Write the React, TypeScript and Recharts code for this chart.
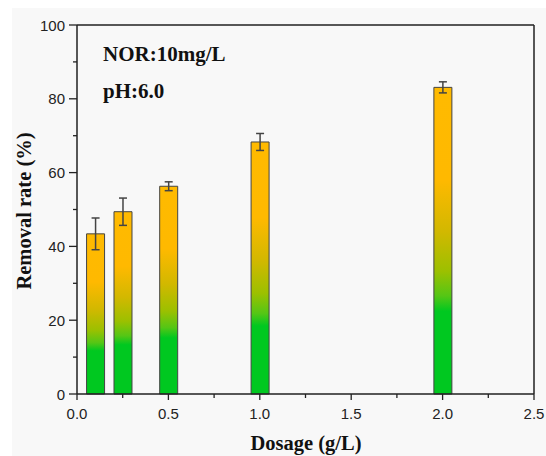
import React from 'react';
import { BarChart, Bar, XAxis, YAxis, ErrorBar, ReferenceLine } from 'recharts';

const dosage = [0.1, 0.25, 0.5, 1.0, 2.0];
const removalRate = [43.4, 49.4, 56.3, 68.3, 83.1];
const errorValues = [4.3, 3.7, 1.2, 2.3, 1.5];
const xTicks = [0, 0.25, 0.5, 0.75, 1.0, 1.25, 1.5, 1.75, 2.0, 2.25, 2.5];
const yTicks = [0, 10, 20, 30, 40, 50, 60, 70, 80, 90, 100];
const xTitle = 'Dosage (g/L)';
const yTitle = 'Removal rate (%)';
const notes = ['NOR:10mg/L', 'pH:6.0'];

const data = dosage.map((d, i) => ({ dosage: d, rate: removalRate[i], err: errorValues[i] }));

const AXIS = '#222';
const TICK_FONT = '"Liberation Sans", Arial, sans-serif';
const TITLE_FONT = '"Liberation Serif", "Times New Roman", serif';

const XTick = (props: any) => {
  const { x, y, payload } = props;
  const v = payload.value as number;
  const major = Math.abs(v * 2 - Math.round(v * 2)) < 1e-6;
  return (
    <g>
      <line x1={x} x2={x} y1={y} y2={y + (major ? 6 : 4)} stroke={AXIS} strokeWidth={1.3} />
      {major && (
        <text x={x} y={y + 25} textAnchor="middle" fontSize={15} fontFamily={TICK_FONT} fill="#222">
          {v.toFixed(1)}
        </text>
      )}
    </g>
  );
};

const YTick = (props: any) => {
  const { x, y, payload } = props;
  const v = payload.value as number;
  const major = v % 20 === 0;
  return (
    <g>
      <line x1={x - (major ? 8 : 4)} x2={x} y1={y} y2={y} stroke={AXIS} strokeWidth={1.3} />
      {major && (
        <text x={x - 12} y={y + 5.5} textAnchor="end" fontSize={15} fontFamily={TICK_FONT} fill="#222">
          {v}
        </text>
      )}
    </g>
  );
};

export default function App() {
  return (
    <div style={{ position: 'absolute', left: 0, top: 0, width: 546, height: 456, background: '#ffffff' }}>
      <div style={{ position: 'absolute', left: 12, top: 8, width: 534, height: 448, background: '#f8f8f8' }} />
      <div style={{ position: 'absolute', left: 0, top: 0 }}>
        <BarChart width={546} height={456} data={data} margin={{ top: 25, right: 12, bottom: 32, left: 17 }}>
          <defs>
            <linearGradient id="barGrad" x1="0" y1="0" x2="0" y2="1">
              <stop offset="0" stopColor="#ffba00" />
              <stop offset="0.3" stopColor="#ffb900" />
              <stop offset="0.47" stopColor="#d2b800" />
              <stop offset="0.6" stopColor="#9cc000" />
              <stop offset="0.68" stopColor="#55c615" />
              <stop offset="0.73" stopColor="#00c820" />
              <stop offset="1" stopColor="#00c820" />
            </linearGradient>
          </defs>
          <XAxis
            type="number"
            dataKey="dosage"
            domain={[0, 2.5]}
            ticks={xTicks}
            interval={0}
            tickSize={0}
            tickMargin={0}
            tickLine={false}
            height={30}
            axisLine={{ stroke: AXIS, strokeWidth: 1.5 }}
            tick={<XTick />}
            allowDataOverflow
          />
          <YAxis
            type="number"
            domain={[0, 100]}
            ticks={yTicks}
            interval={0}
            tickSize={0}
            tickMargin={0}
            tickLine={false}
            width={60}
            axisLine={{ stroke: AXIS, strokeWidth: 1.5 }}
            tick={<YTick />}
          />
          <ReferenceLine y={100} stroke={AXIS} strokeWidth={1.5} />
          <ReferenceLine x={2.5} stroke={AXIS} strokeWidth={1.5} />
          <Bar dataKey="rate" barSize={18} fill="url(#barGrad)" stroke="#444" strokeWidth={1} isAnimationActive={false}>
            <ErrorBar dataKey="err" width={4} stroke="#444" strokeWidth={1.5} isAnimationActive={false} />
          </Bar>
        </BarChart>
      </div>
      <svg width={546} height={456} style={{ position: 'absolute', left: 0, top: 0, pointerEvents: 'none' }}>
        <text x={103} y={61} fontSize={21} fontWeight="bold" fontFamily={TITLE_FONT} fill="#111">{notes[0]}</text>
        <text x={103} y={98} fontSize={21} fontWeight="bold" fontFamily={TITLE_FONT} fill="#111">{notes[1]}</text>
        <text x={306} y={450} textAnchor="middle" fontSize={20.5} fontWeight="bold" fontFamily={TITLE_FONT} fill="#111">{xTitle}</text>
        <text x={0} y={0} transform="translate(31,211) rotate(-90)" textAnchor="middle" fontSize={20.5} fontWeight="bold" fontFamily={TITLE_FONT} fill="#111">{yTitle}</text>
      </svg>
    </div>
  );
}
